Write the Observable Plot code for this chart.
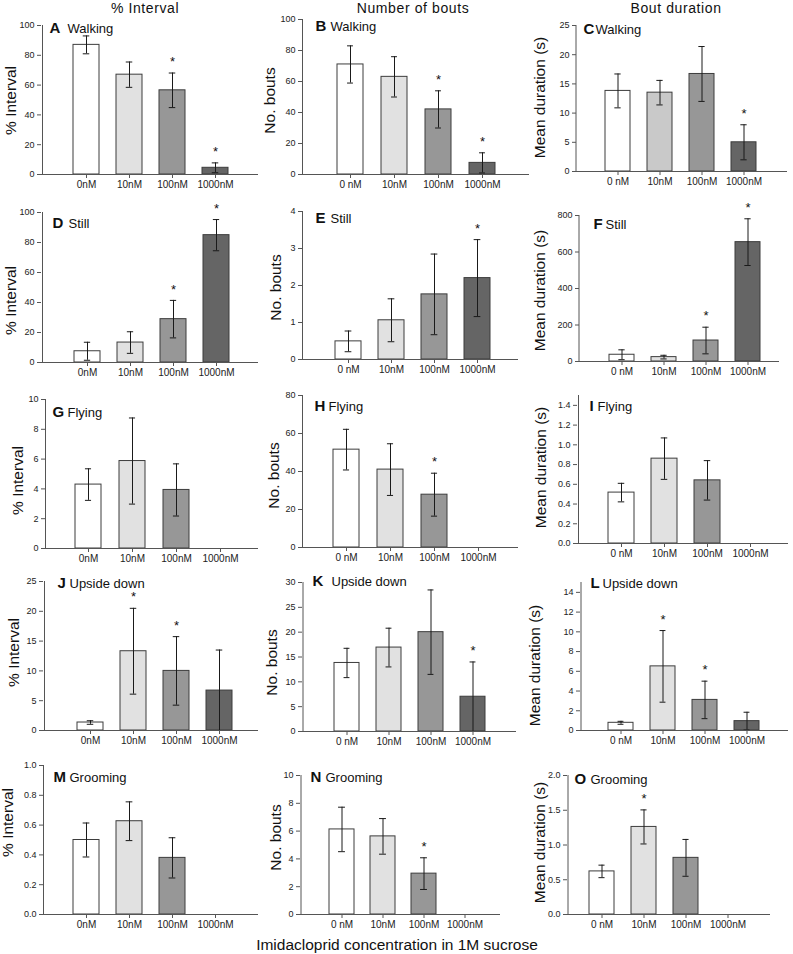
<!DOCTYPE html>
<html><head><meta charset="utf-8">
<script src="https://cdn.jsdelivr.net/npm/d3@7"></script>
<script src="https://cdn.jsdelivr.net/npm/@observablehq/plot@0.6"></script>
<style>
body{margin:0;background:#fff;}
#fig{position:relative;width:793px;height:954px;font-family:"Liberation Sans",Arial,sans-serif;color:#111;overflow:hidden;background:#fff}
.panel{position:absolute;overflow:visible}
.coltitle{position:absolute;transform:translate(-50%,-50%);font-size:14px;letter-spacing:0.6px;white-space:nowrap}
.caption{position:absolute;transform:translate(-50%,-50%);font-size:15.5px;white-space:nowrap}
</style></head><body><div id="fig"></div>
<script>
// ---------- data ----------
const concentrations = ["0nM", "10nM", "100nM", "1000nM"];
const tickLabelsCompact = ["0nM", "10nM", "100nM", "1000nM"];
const tickLabelsSpaced = ["0 nM", "10nM", "100nM", "1000nM"];
const columnTitles = ["% Interval", "Number of bouts", "Bout duration"];
const yLabels = ["% Interval", "No. bouts", "Mean duration (s)"];
const behaviours = ["Walking", "Still", "Flying", "Upside down", "Grooming"];
const panelLetters = ["A","B","C","D","E","F","G","H","I","J","K","L","M","N","O"];
const xAxisTitle = "Imidacloprid concentration in 1M sucrose";

const walkingIntervalMean = [87, 67, 56.5, 4.5];
const walkingIntervalSem = [6, 8.5, 11.6, 3.3];
const walkingIntervalSig = [0, 0, 1, 1];
const walkingBoutsMean = [71, 63, 42, 7.5];
const walkingBoutsSem = [12, 13, 12, 6.5];
const walkingBoutsSig = [0, 0, 1, 1];
const walkingDurationMean = [13.8, 13.5, 16.7, 5];
const walkingDurationSem = [2.9, 2.1, 4.7, 3];
const walkingDurationSig = [0, 0, 0, 1];

const stillIntervalMean = [7.5, 13.3, 28.9, 84.9];
const stillIntervalSem = [6, 7.2, 12.5, 10.4];
const stillIntervalSig = [0, 0, 1, 1];
const stillBoutsMean = [0.49, 1.06, 1.76, 2.2];
const stillBoutsSem = [0.28, 0.58, 1.09, 1.04];
const stillBoutsSig = [0, 0, 0, 1];
const stillDurationMean = [37, 24, 115, 654];
const stillDurationSem = [27, 10, 73, 128];
const stillDurationSig = [0, 0, 1, 1];

const flyingIntervalMean = [4.29, 5.87, 3.93, null];
const flyingIntervalSem = [1.06, 2.89, 1.75, null];
const flyingIntervalSig = [0, 0, 0, 0];
const flyingBoutsMean = [51.5, 41, 27.8, null];
const flyingBoutsSem = [10.7, 13.6, 11.3, null];
const flyingBoutsSig = [0, 0, 1, 0];
const flyingDurationMean = [0.516, 0.86, 0.64, null];
const flyingDurationSem = [0.094, 0.21, 0.2, null];
const flyingDurationSig = [0, 0, 0, 0];

const upsideIntervalMean = [1.34, 13.3, 10.0, 6.7];
const upsideIntervalSem = [0.3, 7.2, 5.75, 6.8];
const upsideIntervalSig = [0, 1, 1, 0];
const upsideBoutsMean = [13.8, 16.9, 20.0, 7.0];
const upsideBoutsSem = [2.95, 3.9, 8.5, 7.0];
const upsideBoutsSig = [0, 0, 0, 1];
const upsideDurationMean = [0.78, 6.5, 3.1, 0.95];
const upsideDurationSem = [0.15, 3.63, 1.9, 0.9];
const upsideDurationSig = [0, 1, 1, 0];

const groomingIntervalMean = [0.50, 0.626, 0.38, null];
const groomingIntervalSem = [0.114, 0.13, 0.135, null];
const groomingIntervalSig = [0, 0, 0, 0];
const groomingBoutsMean = [6.12, 5.62, 2.94, null];
const groomingBoutsSem = [1.6, 1.28, 1.14, null];
const groomingBoutsSig = [0, 0, 1, 0];
const groomingDurationMean = [0.62, 1.26, 0.815, null];
const groomingDurationSem = [0.09, 0.245, 0.265, null];
const groomingDurationSig = [0, 1, 0, 0];

// y-axis ticks
const ticks100 = [0, 20, 40, 60, 80, 100];
const ticks25 = [0, 5, 10, 15, 20, 25];
const ticks4 = [0, 1, 2, 3, 4];
const ticks800 = [0, 200, 400, 600, 800];
const ticks10by2 = [0, 2, 4, 6, 8, 10];
const ticks80 = [0, 20, 40, 60, 80];
const ticks1_4 = [0, 0.2, 0.4, 0.6, 0.8, 1.0, 1.2, 1.4];
const ticks30 = [0, 5, 10, 15, 20, 25, 30];
const ticks14 = [0, 2, 4, 6, 8, 10, 12, 14];
const ticks1 = [0, 0.2, 0.4, 0.6, 0.8, 1.0];
const ticks2 = [0, 0.5, 1.0, 1.5, 2.0];

// ---------- styling / layout ----------
const barFills = ["#ffffff", "#e1e1e1", "#979797", "#656565"];
const intFmt = d3.format("d");
const decFmt = d3.format(".1f");

const panels = [
  {mean: walkingIntervalMean, sem: walkingIntervalSem, sig: walkingIntervalSig, ticks: ticks100, max: 100, fmt: intFmt},
  {mean: walkingBoutsMean, sem: walkingBoutsSem, sig: walkingBoutsSig, ticks: ticks100, max: 100, fmt: intFmt},
  {mean: walkingDurationMean, sem: walkingDurationSem, sig: walkingDurationSig, ticks: ticks25, max: 25, fmt: intFmt},
  {mean: stillIntervalMean, sem: stillIntervalSem, sig: stillIntervalSig, ticks: ticks100, max: 100, fmt: intFmt},
  {mean: stillBoutsMean, sem: stillBoutsSem, sig: stillBoutsSig, ticks: ticks4, max: 4, fmt: intFmt},
  {mean: stillDurationMean, sem: stillDurationSem, sig: stillDurationSig, ticks: ticks800, max: 800, fmt: intFmt},
  {mean: flyingIntervalMean, sem: flyingIntervalSem, sig: flyingIntervalSig, ticks: ticks10by2, max: 10, fmt: intFmt},
  {mean: flyingBoutsMean, sem: flyingBoutsSem, sig: flyingBoutsSig, ticks: ticks80, max: 80, fmt: intFmt},
  {mean: flyingDurationMean, sem: flyingDurationSem, sig: flyingDurationSig, ticks: ticks1_4, max: 1.5, fmt: decFmt},
  {mean: upsideIntervalMean, sem: upsideIntervalSem, sig: upsideIntervalSig, ticks: ticks25, max: 25, fmt: intFmt},
  {mean: upsideBoutsMean, sem: upsideBoutsSem, sig: upsideBoutsSig, ticks: ticks30, max: 30, fmt: intFmt},
  {mean: upsideDurationMean, sem: upsideDurationSem, sig: upsideDurationSig, ticks: ticks14, max: 15, fmt: intFmt},
  {mean: groomingIntervalMean, sem: groomingIntervalSem, sig: groomingIntervalSig, ticks: ticks1, max: 1, fmt: decFmt},
  {mean: groomingBoutsMean, sem: groomingBoutsSem, sig: groomingBoutsSig, ticks: ticks10by2, max: 10, fmt: intFmt},
  {mean: groomingDurationMean, sem: groomingDurationSem, sig: groomingDurationSig, ticks: ticks2, max: 2, fmt: decFmt}
];

// page-pixel geometry of each panel
const layout = [
  {axisX:41, top:25, zero:174, c0:85, c3:215, right:258, letter:[49,32], word:67, ylab:[11,100]},
  {axisX:302, top:19, zero:174, c0:350, c3:483, right:529, letter:[315,30], word:330, ylab:[270,100]},
  {axisX:576, top:25, zero:171, c0:618, c3:744, right:787, letter:[583,33], word:595, ylab:[540,97], fill10:"#c9c9c9"},
  {axisX:41, top:212, zero:362, c0:86, c3:217, right:258, letter:[52,227], word:68, ylab:[11,300]},
  {axisX:302, top:211, zero:359, c0:348, c3:477, right:518, letter:[315,222], word:330, ylab:[276,287]},
  {axisX:579, top:215, zero:361, c0:622, c3:748, right:779, letter:[593,228], word:605, ylab:[540,290]},
  {axisX:45, top:399, zero:548, c0:88, c3:220, right:258, letter:[52,416], word:67, ylab:[18,480]},
  {axisX:302, top:395, zero:547, c0:346, c3:478, right:518, letter:[314,410], word:328, ylab:[274,475]},
  {axisX:577, top:395, zero:543, c0:620, c3:750, right:788, letter:[589,410], word:597, ylab:[541,467]},
  {axisX:43, top:581, zero:730, c0:89, c3:219, right:258, letter:[57,587], word:69, ylab:[14,652]},
  {axisX:302, top:582, zero:731, c0:346, c3:474, right:516, letter:[312,585], word:331, ylab:[272,662]},
  {axisX:580, top:582, zero:730, c0:620, c3:748, right:788, letter:[590,587], word:602, ylab:[535,665]},
  {axisX:43, top:765, zero:914, c0:86, c3:215, right:258, letter:[53,781], word:69, ylab:[8,822]},
  {axisX:300, top:775, zero:914, c0:341, c3:464, right:500, letter:[310,781], word:325, ylab:[276,837]},
  {axisX:567, top:775, zero:914, c0:601, c3:728, right:770, letter:[574,783], word:590, ylab:[540,842]}
];

const fig = document.getElementById("fig");

panels.forEach((p, k) => {
  const L = layout[k];
  const row = Math.floor(k / 3), col = k % 3;
  const ml = 40, mt = 24, mb = 26, mr = 4;
  const left = L.axisX - ml;
  const top = L.top - mt;
  const width = L.right - left + mr;
  const height = (L.zero - L.top) + mt + mb;
  const step = (L.c3 - L.c0) / 3;
  const r0 = L.c0 - step / 2 - left, r1 = L.c3 + step / 2 - left;
  const bw = step * 0.6;
  const cap = Math.max(0, (bw - 6.5) / 2);
  const xl = col === 0 ? tickLabelsCompact : tickLabelsSpaced;
  const fills = barFills.slice();
  if (L.fill10) fills[1] = L.fill10;
  const rows = concentrations.map((c, i) => ({c, m: p.mean[i], s: p.sem[i], sig: p.sig[i]})).filter(d => d.m != null);
  const lo = d => Math.max(0, d.m - d.s), hi = d => d.m + d.s;

  const chart = Plot.plot({
    width, height, marginLeft: ml, marginTop: mt, marginBottom: mb, marginRight: mr,
    style: {fontFamily: "'Liberation Sans', Arial, sans-serif", fontSize: "9px", color: "#222", background: "transparent", overflow: "visible"},
    x: {domain: concentrations, range: [r0, r1], paddingInner: 0.4, paddingOuter: 0.2, axis: null},
    y: {domain: [0, p.max], axis: null},
    color: {domain: concentrations, range: fills},
    marks: [
      Plot.barY(rows, {x: "c", y: "m", fill: "c", stroke: "#3c3c3c", strokeWidth: 1}),
      Plot.ruleX(rows, {x: "c", y1: lo, y2: hi, stroke: "#1a1a1a", strokeWidth: 1}),
      Plot.tickY(rows, {x: "c", y: hi, insetLeft: cap, insetRight: cap, stroke: "#1a1a1a", strokeWidth: 1}),
      Plot.tickY(rows.filter(d => d.m - d.s > 0), {x: "c", y: lo, insetLeft: cap, insetRight: cap, stroke: "#1a1a1a", strokeWidth: 1}),
      Plot.text(rows.filter(d => d.sig), {x: "c", y: hi, text: () => "*", dy: -11, fontSize: 13, fill: "#111"}),
      Plot.ruleY([0], {stroke: "#555", strokeWidth: 1}),
      Plot.ruleX([concentrations[0]], {x: d => d, dx: L.axisX - L.c0, stroke: "#555", strokeWidth: 1}),
      Plot.axisY({ticks: p.ticks, tickFormat: p.fmt, tickSize: 4, tickPadding: 3, label: null, fontSize: 9, stroke: "#555", fill: "#222"}),
      Plot.axisX({tickFormat: d => xl[concentrations.indexOf(d)], tickSize: 4, tickPadding: 2.5, label: null, fontSize: 10, stroke: "#555", fill: "#222"}),
      Plot.text([panelLetters[k]], {frameAnchor: "top-left", dx: L.letter[0] - L.axisX, dy: L.letter[1] - L.top, text: d => d, textAnchor: "start", lineAnchor: "bottom", fontWeight: "bold", fontSize: 15, fill: "#111"}),
      Plot.text([behaviours[row]], {frameAnchor: "top-left", dx: L.word - L.axisX, dy: L.letter[1] - L.top, text: d => d, textAnchor: "start", lineAnchor: "bottom", fontSize: 13, fill: "#111"}),
      Plot.text([yLabels[col]], {frameAnchor: "top-left", dx: L.ylab[0] - L.axisX, dy: L.ylab[1] - L.top, text: d => d, rotate: -90, textAnchor: "middle", lineAnchor: "middle", fontSize: 15.5, fill: "#111"})
    ]
  });
  chart.classList.add("panel");
  chart.style.left = left + "px";
  chart.style.top = top + "px";
  fig.appendChild(chart);
});

const titleX = [145, 413, 676];
columnTitles.forEach((t, i) => {
  const d = document.createElement("div");
  d.className = "coltitle";
  d.style.left = titleX[i] + "px";
  d.style.top = "8px";
  d.textContent = t;
  fig.appendChild(d);
});
const cap = document.createElement("div");
cap.className = "caption";
cap.style.left = "397px";
cap.style.top = "945px";
cap.textContent = xAxisTitle;
fig.appendChild(cap);
</script></body></html>
